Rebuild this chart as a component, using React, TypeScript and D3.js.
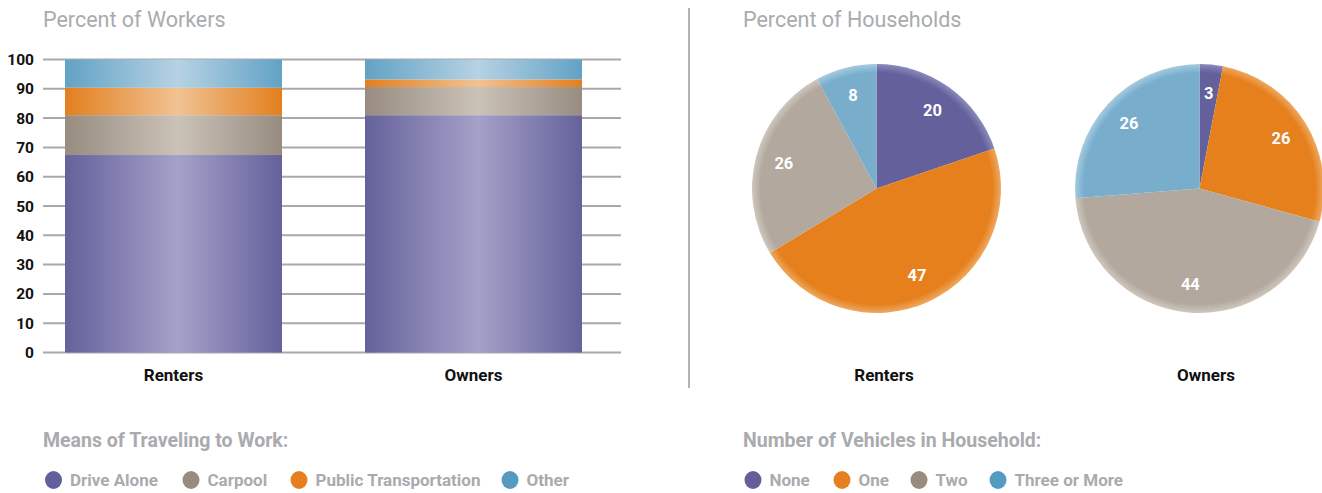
import React from "react";
import * as d3 from "d3";

// ---------- data ----------
const categories = ["Renters", "Owners"];
const modes = ["Drive Alone", "Carpool", "Public Transportation", "Other"];
const renterModes = [67.4, 13.6, 9.4, 9.6];
const ownerModes = [81, 9.6, 2.6, 6.8];
const yTicks = [0, 10, 20, 30, 40, 50, 60, 70, 80, 90, 100];

const vehicleClasses = ["None", "One", "Two", "Three or More"];
const renterVehicles = [20, 47, 26, 8];
const ownerVehicles = [3, 26, 44, 26];

// ---------- styles ----------
const W = 1322;
const H = 493;
const FONT = "Roboto, 'Liberation Sans', Arial, sans-serif";
const GREY_TEXT = "#a9abae";

const modeColors = ["#635f9b", "#9a8b7f", "#e5801e", "#559ac0"];
const modeEdge = ["#65619b", "#988c80", "#e37f1e", "#62a2c5"];
const modeMid = ["#a4a2c9", "#cbc2b8", "#f0c293", "#b6d2e4"];
const vehicleColors = ["#63609b", "#e5801d", "#b2a89e", "#78aecc"];
const vehicleLegend = ["#635f9b", "#e5801e", "#9a8b7f", "#559ac0"];
const vehicleRim = ["#8c89bb", "#efa860", "#cfc7be", "#a5cbe0"];

export default function App() {
  // bar chart scales
  const x = d3.scaleBand<string>().domain(categories).range([65, 582]).paddingInner(0.2767).paddingOuter(0);
  const y = d3.scaleLinear().domain([0, 100]).range([352.5, 59.5]);

  const table = categories.map((c, i) => {
    const vals = i === 0 ? renterModes : ownerModes;
    const row: any = { category: c };
    modes.forEach((m, j) => (row[m] = vals[j]));
    return row;
  });
  const stacked = d3.stack<any>().keys(modes)(table);

  // pies
  const R = 124.5;
  const pie = d3.pie<number>().sort(null).value((d) => d).startAngle(0).endAngle(2 * Math.PI);
  const arc = d3.arc<d3.PieArcDatum<number>>().innerRadius(0).outerRadius(R);
  const labelArc = d3.arc<d3.PieArcDatum<number>>().innerRadius(96).outerRadius(96);
  const pies = [
    { name: "Renters", values: renterVehicles, cx: 876.5, cy: 188.5, labelX: 884 },
    { name: "Owners", values: ownerVehicles, cx: 1199.5, cy: 188.5, labelX: 1206 },
  ];

  const leftLegend = [53.5, 191, 299, 510];
  const rightLegend = [753, 842, 919, 998];

  return (
    <svg width={W} height={H} style={{ position: "absolute", left: 0, top: 0, display: "block" }} fontFamily={FONT}>
      <defs>
        {modes.map((m, i) => (
          <linearGradient key={m} id={`barg${i}`} x1="0" x2="1" y1="0" y2="0">
            <stop offset="0%" stopColor={modeEdge[i]} />
            <stop offset="52%" stopColor={modeMid[i]} />
            <stop offset="100%" stopColor={modeEdge[i]} />
          </linearGradient>
        ))}
        {pies.map((p, pi) =>
          vehicleColors.map((c, i) => (
            <radialGradient
              key={`${pi}-${i}`}
              id={`pieg${pi}-${i}`}
              gradientUnits="userSpaceOnUse"
              cx={0}
              cy={0}
              r={R}
            >
              <stop offset="0%" stopColor={c} />
              <stop offset="93%" stopColor={c} />
              <stop offset="100%" stopColor={vehicleRim[i]} />
            </radialGradient>
          ))
        )}
      </defs>

      {/* ---------- left panel ---------- */}
      <text x={43} y={27} fontSize={21.5} fill={GREY_TEXT}>
        Percent of Workers
      </text>

      {yTicks.map((t) => (
        <g key={t}>
          <line x1={43} x2={621} y1={y(t)} y2={y(t)} stroke="#a9a9ad" strokeWidth={2} />
          <text x={34} y={y(t)} dy="0.36em" textAnchor="end" fontSize={15.5} fontWeight="bold" fill="#111">
            {t}
          </text>
        </g>
      ))}

      {stacked.map((layer, i) =>
        layer.map((d, j) => (
          <rect
            key={`${i}-${j}`}
            x={x(categories[j])}
            width={x.bandwidth()}
            y={y(d[1])}
            height={y(d[0]) - y(d[1])}
            fill={`url(#barg${i})`}
          />
        ))
      )}

      {categories.map((c) => (
        <text
          key={c}
          x={(x(c) as number) + x.bandwidth() / 2}
          y={375}
          dy="0.36em"
          textAnchor="middle"
          fontSize={17}
          fontWeight="bold"
          fill="#111"
        >
          {c}
        </text>
      ))}

      <text x={43} y={447} fontSize={19.5} fontWeight="bold" fill={GREY_TEXT}>
        Means of Traveling to Work:
      </text>
      {modes.map((m, i) => (
        <g key={m}>
          <ellipse cx={leftLegend[i]} cy={480} rx={8.5} ry={9} fill={modeColors[i]} />
          <text x={leftLegend[i] + 16.5} y={480} dy="0.36em" fontSize={17} fontWeight="bold" fill={GREY_TEXT}>
            {m}
          </text>
        </g>
      ))}

      {/* divider */}
      <line x1={689} x2={689} y1={8} y2={388} stroke="#b3b3b5" strokeWidth={2} />

      {/* ---------- right panel ---------- */}
      <text x={743} y={27} fontSize={21.5} fill={GREY_TEXT}>
        Percent of Households
      </text>

      {pies.map((p, pi) => {
        const arcs = pie(p.values);
        return (
          <g key={p.name}>
            <g transform={`translate(${p.cx},${p.cy})`}>
              {arcs.map((a, i) => (
                <path key={i} d={arc(a) as string} fill={`url(#pieg${pi}-${i})`} />
              ))}
              {arcs.map((a, i) => {
                const [lx, ly] = labelArc.centroid(a);
                return (
                  <text
                    key={`l${i}`}
                    x={lx}
                    y={ly}
                    dy="0.36em"
                    textAnchor="middle"
                    fontSize={16.5}
                    fontWeight="bold"
                    fill="#fff"
                  >
                    {p.values[i]}
                  </text>
                );
              })}
            </g>
            <text x={p.labelX} y={375} dy="0.36em" textAnchor="middle" fontSize={17} fontWeight="bold" fill="#111">
              {p.name}
            </text>
          </g>
        );
      })}

      <text x={743} y={447} fontSize={19.5} fontWeight="bold" fill={GREY_TEXT}>
        Number of Vehicles in Household:
      </text>
      {vehicleClasses.map((v, i) => (
        <g key={v}>
          <ellipse cx={rightLegend[i]} cy={480} rx={8.5} ry={9} fill={vehicleLegend[i]} />
          <text x={rightLegend[i] + 16.5} y={480} dy="0.36em" fontSize={17} fontWeight="bold" fill={GREY_TEXT}>
            {v}
          </text>
        </g>
      ))}
    </svg>
  );
}
